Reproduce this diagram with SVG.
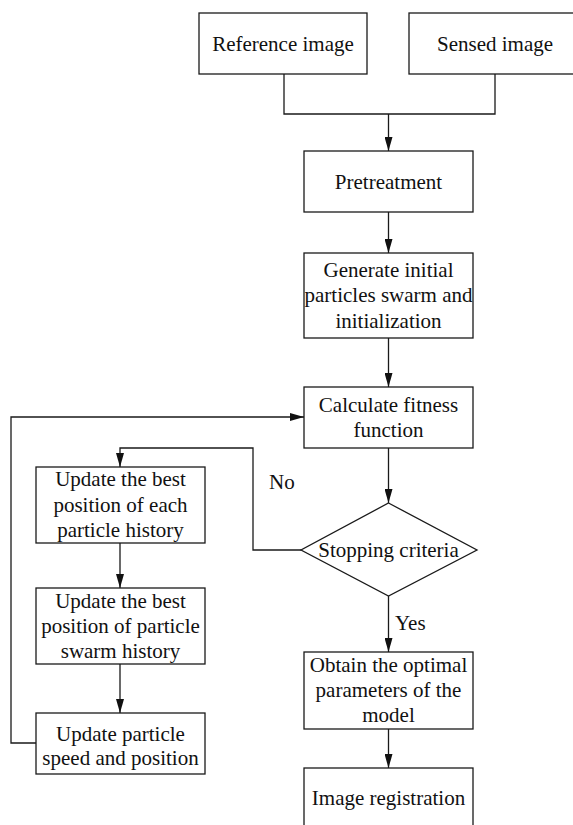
<svg xmlns="http://www.w3.org/2000/svg" width="573" height="825" viewBox="0 0 573 825">
<style>
.box{fill:#fff;stroke:#1a1a1a;stroke-width:1.3}
.ln{fill:none;stroke:#1a1a1a;stroke-width:1.3}
text{font-family:"Liberation Serif","Times New Roman",serif;font-size:21px;fill:#111;text-anchor:middle}
.lbl{text-anchor:start}
</style>
<defs>
<marker id="arr" markerUnits="userSpaceOnUse" markerWidth="14" markerHeight="8" refX="14" refY="4" orient="auto">
<path d="M0,0 L14,4 L0,8 z" fill="#111"/>
</marker>
</defs>
<rect width="573" height="825" fill="#fff"/>
<g id="connectors">
<path class="ln" d="M284,74 V114 H495 V74"/>
<path class="ln" d="M388.5,114 V151" marker-end="url(#arr)"/>
<path class="ln" d="M388.5,212 V253" marker-end="url(#arr)"/>
<path class="ln" d="M388.5,338 V387" marker-end="url(#arr)"/>
<path class="ln" d="M388.5,448 V503" marker-end="url(#arr)"/>
<path class="ln" d="M388.5,596 V652" marker-end="url(#arr)"/>
<path class="ln" d="M388.5,729 V768" marker-end="url(#arr)"/>
<path class="ln" d="M301,550 H253 V448 H120 V467" marker-end="url(#arr)"/>
<path class="ln" d="M120,543 V588" marker-end="url(#arr)"/>
<path class="ln" d="M120,664 V713" marker-end="url(#arr)"/>
<path class="ln" d="M36,743 H11 V417 H304" marker-end="url(#arr)"/>
<text class="lbl" x="269" y="489">No</text>
<text class="lbl" x="395" y="630">Yes</text>
</g>
<g id="ref">
<rect class="box" x="199" y="13" width="168" height="61"/>
<text x="283" y="51">Reference image</text>
</g>
<g id="sensed">
<rect class="box" x="409" y="13" width="172" height="61"/>
<text x="495" y="51">Sensed image</text>
</g>
<g id="pre">
<rect class="box" x="304" y="151" width="169" height="61"/>
<text x="388.5" y="189">Pretreatment</text>
</g>
<g id="gen">
<rect class="box" x="304" y="253" width="169" height="85"/>
<text x="388.5" y="277">Generate initial</text>
<text x="388.5" y="302">particles swarm and</text>
<text x="388.5" y="328">initialization</text>
</g>
<g id="calc">
<rect class="box" x="304" y="387" width="169" height="61"/>
<text x="388.5" y="412">Calculate fitness</text>
<text x="388.5" y="437">function</text>
</g>
<g id="stop">
<polygon class="box" points="388.5,503 477,550 388.5,596 301,550"/>
<text x="388.5" y="557">Stopping criteria</text>
</g>
<g id="upd1">
<rect class="box" x="36" y="467" width="169" height="76"/>
<text x="120.5" y="486">Update the best</text>
<text x="120.5" y="512">position of each</text>
<text x="120.5" y="537">particle history</text>
</g>
<g id="upd2">
<rect class="box" x="36" y="588" width="169" height="76"/>
<text x="120.5" y="608">Update the best</text>
<text x="120.5" y="633">position of particle</text>
<text x="120.5" y="658">swarm history</text>
</g>
<g id="upd3">
<rect class="box" x="36" y="713" width="169" height="61"/>
<text x="120.5" y="741">Update particle</text>
<text x="120.5" y="765">speed and position</text>
</g>
<g id="obtain">
<rect class="box" x="304" y="652" width="169" height="77"/>
<text x="388.5" y="672">Obtain the optimal</text>
<text x="388.5" y="697">parameters of the</text>
<text x="388.5" y="722">model</text>
</g>
<g id="reg">
<rect class="box" x="304" y="768" width="169" height="62"/>
<text x="388.5" y="805">Image registration</text>
</g>
</svg>
